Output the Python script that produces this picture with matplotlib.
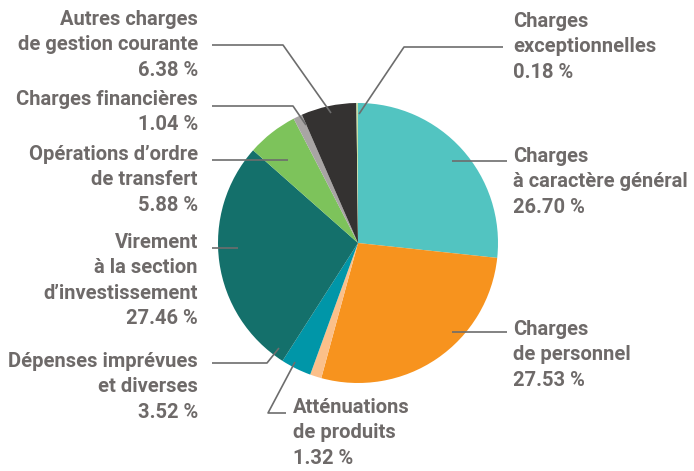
import matplotlib
matplotlib.use("Agg")
import matplotlib.pyplot as plt

# slices, clockwise from 12 o'clock
names = ["Charges\nà caractère général", "Charges\nde personnel",
         "Atténuations\nde produits", "Dépenses imprévues\net diverses",
         "Virement\nà la section\nd\u2019investissement",
         "Opérations d\u2019ordre\nde transfert", "Charges financières",
         "Autres charges\nde gestion courante", "Charges\nexceptionnelles"]
values = [26.70, 27.53, 1.32, 3.52, 27.46, 5.88, 1.04, 6.38, 0.18]
colors = ["#52c4c1", "#f7931e", "#fbc08a", "#0096a8", "#14706b",
          "#7dc35b", "#a8a5a4", "#343231", "#c5e0a5"]

# label anchor (x, y top, alignment) and leader line in pixel coords
label_pos = [(513, 147, "left"), (513, 320, "left"), (293, 398, "left"),
             (198, 352, "right"), (198, 233, "right"), (198, 145, "right"),
             (198, 90, "right"), (198, 10, "right"), (513, 12, "left")]
leaders = [[(452, 161), (507, 161)],
           [(452, 332), (507, 332)],
           [(295, 362), (268, 413), (286, 413)],
           [(212, 363), (267, 363), (279, 348)],
           [(212, 248), (238, 248)],
           [(212, 160), (288, 160)],
           [(212, 106), (293, 106), (306, 125)],
           [(212, 45), (283, 45), (331, 113)],
           [(503, 47), (404, 47), (359, 114)]]

text_color = "#6e6a69"
line_color = "#6d6d6d"

fig = plt.figure(figsize=(6.94, 4.71), dpi=100)
ax = fig.add_axes([0, 0, 1, 1])
ax.pie(values, colors=colors, startangle=-90, counterclock=True,
       radius=140, center=(358, 243), wedgeprops=dict(linewidth=0))
ax.set_xlim(0, 694)
ax.set_ylim(471, 0)
ax.set_aspect("auto")
ax.axis("off")

for pts in leaders:
    xs = [p[0] for p in pts]
    ys = [p[1] for p in pts]
    ax.plot(xs, ys, color=line_color, lw=1.2, solid_capstyle="butt")

for name, v, (x, y, ha) in zip(names, values, label_pos):
    ax.text(x, y, f"{name}\n{v:.2f} %", ha=ha, va="top", ma=ha,
            fontsize=14.5, fontweight="bold", family="Roboto",
            color=text_color, linespacing=1.43)

fig.savefig("out.png", dpi=100)
